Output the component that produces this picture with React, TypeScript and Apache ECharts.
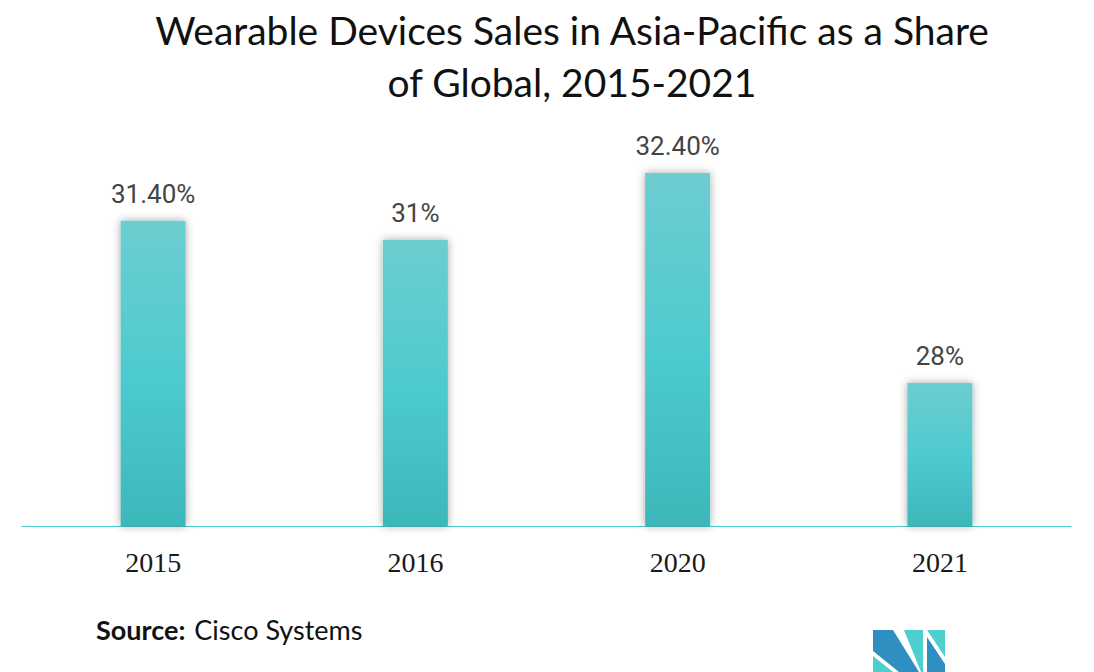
import React, { useEffect, useRef } from "react";
import * as echarts from "echarts";

const categories = ["2015", "2016", "2020", "2021"];
const values = [31.4, 31, 32.4, 28];
const valueLabels = ["31.40%", "31%", "32.40%", "28%"];
const titleText = "Wearable Devices Sales in Asia-Pacific as a Share\nof Global, 2015-2021";

export default function App() {
  const ref = useRef<HTMLDivElement>(null);
  useEffect(() => {
    if (!ref.current) return;
    const chart = echarts.init(ref.current, null, { renderer: "svg" });
    chart.setOption({
      animation: false,
      backgroundColor: "#ffffff",
      grid: { left: 22, right: 23, top: 49, bottom: 146 },
      xAxis: {
        type: "category",
        data: categories,
        axisLine: { lineStyle: { color: "#4cc9c9", width: 1 } },
        axisTick: { show: false },
        axisLabel: {
          fontFamily: "Liberation Serif",
          fontSize: 28,
          color: "#1a1a1a",
          margin: 22,
        },
      },
      yAxis: {
        type: "value",
        min: 25,
        max: 35,
        show: false,
        splitLine: { show: false },
      },
      series: [
        {
          type: "bar",
          data: values,
          barWidth: 65,
          itemStyle: {
            color: new echarts.graphic.LinearGradient(0, 0, 0, 1, [
              { offset: 0, color: "#6dcdd0" },
              { offset: 0.5, color: "#4ecbd0" },
              { offset: 1, color: "#3db7ba" },
            ]),
            shadowBlur: 8,
            shadowColor: "rgba(0,0,0,0.35)",
          },
          label: {
            show: true,
            position: "top",
            distance: 14,
            fontFamily: "Roboto",
            fontSize: 26,
            color: "#444444",
            formatter: (p: any) => valueLabels[p.dataIndex],
          },
        },
      ],
      graphic: [
        {
          type: "text",
          x: 572,
          y: 4,
          style: {
            text: titleText,
            textAlign: "center",
            textVerticalAlign: "top",
            fontFamily: "Lato",
            fontSize: 39,
            lineHeight: 52,
            fill: "#111111",
          },
        },
        {
          type: "text",
          left: 96,
          top: 616,
          style: {
            text: "{b|Source:}{r|Cisco Systems}",
            rich: {
              b: { fontFamily: "Lato", fontWeight: "bold", fontSize: 27, fill: "#111", padding: [0, 9, 0, 0] },
              r: { fontFamily: "Lato", fontSize: 27, fill: "#111" },
            },
          },
        },
        {
          type: "group",
          children: [
            { type: "polygon", shape: { points: [[873, 630], [893, 630], [919, 672], [899, 672], [873, 651]] }, style: { fill: "#2e8fc0" } },
            { type: "polygon", shape: { points: [[873, 656], [873, 672], [893, 672]] }, style: { fill: "#4ecfcf" } },
            { type: "polygon", shape: { points: [[904, 630], [923, 630], [923, 672], [921, 672]] }, style: { fill: "#4ecfcf" } },
            { type: "polygon", shape: { points: [[927, 630], [945, 630], [945, 657]] }, style: { fill: "#4ecfcf" } },
            { type: "polygon", shape: { points: [[927, 637], [945, 664], [945, 672], [927, 672]] }, style: { fill: "#2e8fc0" } },
          ],
        },
      ],
    });
    return () => chart.dispose();
  }, []);
  return <div ref={ref} style={{ width: 1094, height: 672, position: "absolute", left: 0, top: 0 }} />;
}
